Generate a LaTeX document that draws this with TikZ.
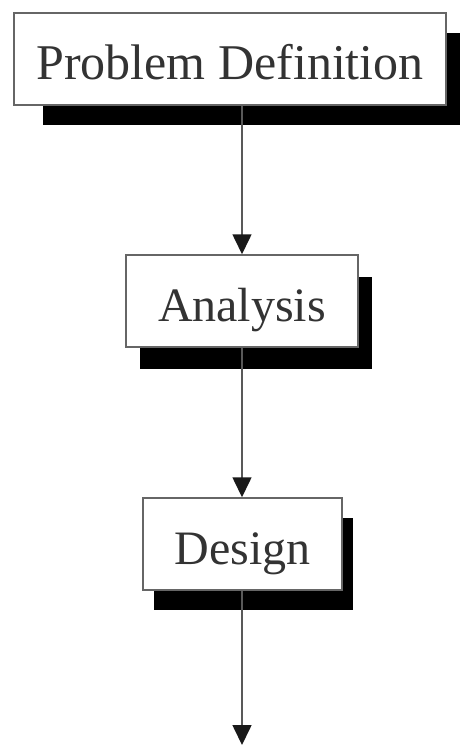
\documentclass[tikz,border=0pt]{standalone}
\usepackage{fontspec}
\setmainfont{Liberation Serif}
\usetikzlibrary{shadows,arrows.meta}

\tikzset{
  stagebox/.style={draw=black!60, line width=1.5pt, fill=white, inner sep=0pt,
    minimum height=92pt, text=black!80, text height=40pt, text depth=0pt,
    font=\fontsize{48}{56}\selectfont},
  flow/.style={draw=black!65, line width=1.6pt,
    -{Triangle[length=20pt,width=19pt,color=black!90,fill=black!90]}}
}

\begin{document}
\begin{tikzpicture}[x=1pt,y=-1pt]
  \useasboundingbox (0,0) rectangle (460,752);

  % process stages, each with a heavy drop shadow
  \node[stagebox, minimum width=432pt, font=\fontsize{50}{58}\selectfont,
        general shadow={fill=black, shadow xshift=29pt, shadow yshift=-20pt}]
        (def) at (230,59) {Problem Definition};
  \node[stagebox, minimum width=232pt,
        general shadow={fill=black, shadow xshift=14pt, shadow yshift=-22pt}]
        (ana) at (242,301) {Analysis};
  \node[stagebox, minimum width=199pt,
        general shadow={fill=black, shadow xshift=11pt, shadow yshift=-20pt}]
        (des) at (242.5,544) {Design};

  % downward flow between stages
  \coordinate (next) at (242,745);
  \draw[flow] (def.south -| ana.north) -- (ana.north);
  \draw[flow] (ana.south) -- (ana.south |- des.north);
  \draw[flow] (des.south -| next) -- (next);
\end{tikzpicture}
\end{document}
